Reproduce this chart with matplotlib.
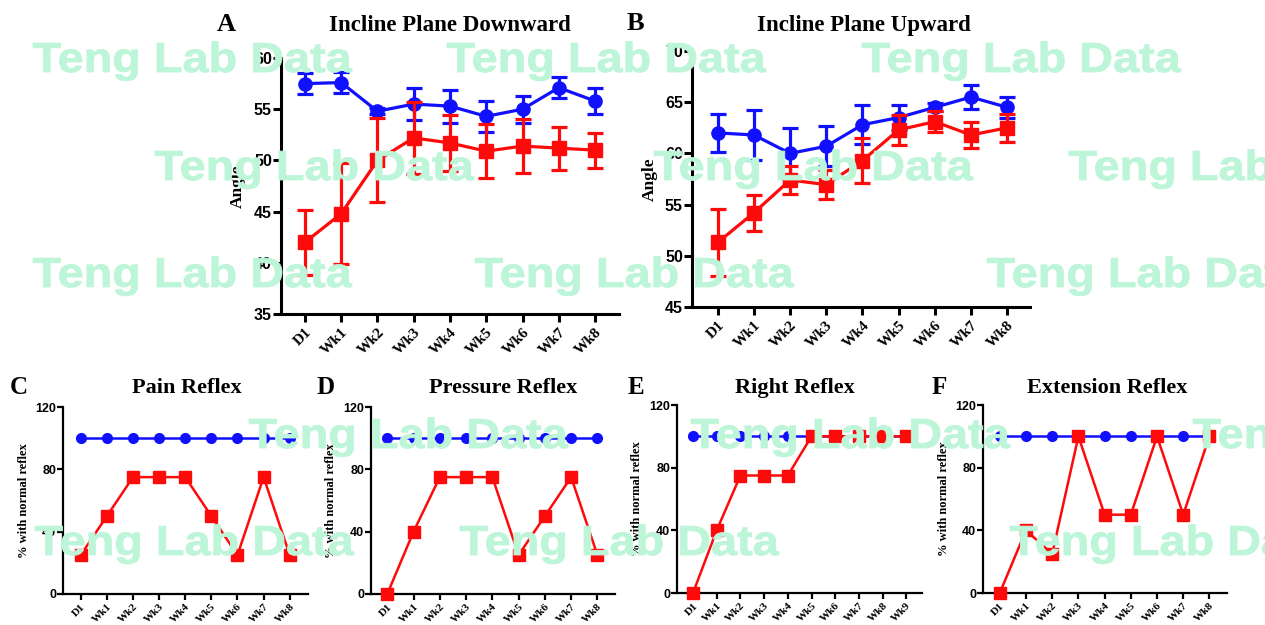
import matplotlib
matplotlib.use("Agg")
import matplotlib.pyplot as plt
from matplotlib.textpath import TextPath
from matplotlib.patches import PathPatch
from matplotlib.font_manager import FontProperties
from matplotlib.transforms import Affine2D

# ---------------- data ----------------
cats_top = ["D1", "Wk1", "Wk2", "Wk3", "Wk4", "Wk5", "Wk6", "Wk7", "Wk8"]

down_blue = [57.5, 57.6, 54.8, 55.5, 55.3, 54.3, 55.0, 57.1, 55.8]
down_blue_err = [1.05, 1.05, 0.3, 1.55, 1.6, 1.5, 1.3, 1.05, 1.25]
down_red = [42.0, 44.8, 50.0, 52.2, 51.7, 50.9, 51.4, 51.2, 51.0]
down_red_err = [3.2, 4.95, 4.1, 3.5, 2.7, 2.65, 2.6, 2.1, 1.7]

up_blue = [62.0, 61.8, 60.0, 60.7, 62.8, 63.5, 64.5, 65.5, 64.5]
up_blue_err = [1.85, 2.4, 2.5, 1.95, 1.9, 1.2, 0.4, 1.2, 1.05]
up_red = [51.3, 54.2, 57.4, 56.95, 59.3, 62.3, 63.1, 61.8, 62.5]
up_red_err = [3.3, 1.75, 1.4, 1.45, 2.2, 1.45, 1.05, 1.25, 1.35]

cats_c = ["D1", "Wk1", "Wk2", "Wk3", "Wk4", "Wk5", "Wk6", "Wk7", "Wk8"]
pain_blue = [100, 100, 100, 100, 100, 100, 100, 100, 100]
pain_red = [25, 50, 75, 75, 75, 50, 25, 75, 25]

cats_d = ["D1", "Wk1", "Wk2", "Wk3", "Wk4", "Wk5", "Wk6", "Wk7", "Wk8"]
press_blue = [100, 100, 100, 100, 100, 100, 100, 100, 100]
press_red = [0, 40, 75, 75, 75, 25, 50, 75, 25]

cats_e = ["D1", "Wk1", "Wk2", "Wk3", "Wk4", "Wk5", "Wk6", "Wk7", "Wk8", "Wk9"]
right_blue = [100, 100, 100, 100, 100, 100, 100, 100, 100, 100]
right_red = [0, 40, 75, 75, 75, 100, 100, 100, 100, 100]

cats_f = ["D1", "Wk1", "Wk2", "Wk3", "Wk4", "Wk5", "Wk6", "Wk7", "Wk8"]
ext_blue = [100, 100, 100, 100, 100, 100, 100, 100, 100]
ext_red = [0, 40, 25, 100, 50, 50, 100, 50, 100]

# ---------------- style ----------------
W, H = 1265, 625
DPI = 100
BLUE = "#1010ff"
RED = "#ff0a0a"
SERIF = "Liberation Serif"
SANS = "Liberation Sans"
WM_COLOR = "#bdf5d8"

fig = plt.figure(figsize=(W / DPI, H / DPI), dpi=DPI)


def add_ax(left, right, top, bottom):
    return fig.add_axes([left / W, 1 - bottom / H, (right - left) / W, (bottom - top) / H])


def style_ax(ax, cats, ylim, yticks, xlim, lw, ytick_fs, xtick_fs, ticklen, xpad):
    for s in ("top", "right"):
        ax.spines[s].set_visible(False)
    for s in ("left", "bottom"):
        ax.spines[s].set_linewidth(lw)
    ax.set_xlim(*xlim)
    ax.set_ylim(*ylim)
    ax.set_yticks(yticks)
    ax.set_xticks(range(len(cats)))
    ax.set_xticklabels(cats, rotation=45, ha="right", va="top", rotation_mode="anchor",
                       fontfamily=SERIF, fontweight="bold", fontsize=xtick_fs)
    ax.set_yticklabels([str(t) for t in yticks], fontfamily=SANS, fontweight="bold",
                       fontsize=ytick_fs)
    ax.tick_params(axis="both", direction="out", width=lw, length=ticklen, pad=1)
    ax.tick_params(axis="x", pad=xpad)
    ax.patch.set_alpha(0)


# ---------------- top panels ----------------
x9 = list(range(len(cats_top)))

axA = add_ax(281, 619, 58, 314)
axA.errorbar(x9, down_blue, yerr=down_blue_err, color=BLUE, marker="o", ms=9.5, lw=2.3,
             elinewidth=2.3, capsize=5.5, capthick=2.3, zorder=3)
axA.errorbar(x9, down_red, yerr=down_red_err, color=RED, marker="s", ms=10, lw=2.3,
             elinewidth=2.3, capsize=5.5, capthick=2.3, zorder=4)
style_ax(axA, cats_top, (35, 60), [35, 40, 45, 50, 55, 60], (-0.66, 8.66), 2.2, 11.5, 11, 5.5, 3)

axB = add_ax(692, 1030, 51, 307)
axB.errorbar(x9, up_blue, yerr=up_blue_err, color=BLUE, marker="o", ms=9.5, lw=2.3,
             elinewidth=2.3, capsize=5.5, capthick=2.3, zorder=3)
axB.errorbar(x9, up_red, yerr=up_red_err, color=RED, marker="s", ms=10, lw=2.3,
             elinewidth=2.3, capsize=5.5, capthick=2.3, zorder=4)
style_ax(axB, cats_top, (45, 70), [45, 50, 55, 60, 65, 70], (-0.71, 8.63), 2.2, 11.5, 11, 5.5, 3)

fig.text(450 / W, 1 - 31 / H, "Incline Plane Downward", ha="center", va="baseline",
         fontfamily=SERIF, fontweight="bold", fontsize=16.5)
fig.text(864 / W, 1 - 31 / H, "Incline Plane Upward", ha="center", va="baseline",
         fontfamily=SERIF, fontweight="bold", fontsize=16.5)
fig.text(226 / W, 1 - 31 / H, "A", ha="center", va="baseline",
         fontfamily=SERIF, fontweight="bold", fontsize=19)
fig.text(635 / W, 1 - 30 / H, "B", ha="center", va="baseline",
         fontfamily=SERIF, fontweight="bold", fontsize=19)
fig.text(238 / W, 1 - 186 / H, "Angle", ha="center", va="center", rotation=90,
         fontfamily=SERIF, fontweight="bold", fontsize=12.5)
fig.text(650 / W, 1 - 179 / H, "Angle", ha="center", va="center", rotation=90,
         fontfamily=SERIF, fontweight="bold", fontsize=12.5)

# ---------------- bottom panels ----------------
bottom_specs = [
    (63, 308, 407, 594, cats_c, pain_blue, pain_red, (-0.68, 8.7), "C", 19, "Pain Reflex", 187, 24),
    (371, 615, 407, 594, cats_d, press_blue, press_red, (-0.62, 8.67), "D", 326, "Pressure Reflex", 503, 331),
    (677, 922, 405, 593, cats_e, right_blue, right_red, (-0.675, 9.66), "E", 636, "Right Reflex", 795, 637),
    (983, 1227, 405, 593, cats_f, ext_blue, ext_red, (-0.64, 8.67), "F", 939, "Extension Reflex", 1107, 944),
]
for (l, r, t, b, cats, yb, yr, xl, letter, lx, title, tx, ylx) in bottom_specs:
    ax = add_ax(l, r, t, b)
    xs = list(range(len(cats)))
    ax.plot(xs, yb, color=BLUE, marker="o", ms=7, lw=1.8, zorder=3, clip_on=False)
    ax.plot(xs, yr, color=RED, marker="s", ms=8, lw=1.8, zorder=4, clip_on=False)
    style_ax(ax, cats, (0, 120), [0, 40, 80, 120], xl, 1.6, 9, 8, 4, 2)
    fig.text(lx / W, 1 - 394 / H, letter, ha="center", va="baseline",
             fontfamily=SERIF, fontweight="bold", fontsize=18)
    fig.text(tx / W, 1 - 393 / H, title, ha="center", va="baseline",
             fontfamily=SERIF, fontweight="bold", fontsize=16)
    fig.text(ylx / W, 1 - ((t + b) / 2) / H, "% with normal reflex", ha="center", va="center",
             rotation=90, fontfamily=SERIF, fontweight="bold", fontsize=9)

# ---------------- watermark ----------------
wm_rows = [
    (72, [33, 447, 862]),
    (180, [155, 654, 1069]),
    (287, [33, 475, 987]),
    (448, [249, 691, 1193]),
    (555, [35, 460, 1010]),
]
fp = FontProperties(family=SANS, weight="bold")
wm_path = TextPath((0, 0), "Teng Lab Data", size=1, prop=fp)
ext = wm_path.get_extents()
sx = 319 / ext.width
sy = 42.0
for base, xs0 in wm_rows:
    for x0 in xs0:
        tr = (Affine2D().scale(sx, sy).translate(x0 - ext.x0 * sx, H - base)
              .scale(1 / W, 1 / H) + fig.transFigure)
        p = PathPatch(wm_path, facecolor=WM_COLOR, edgecolor=WM_COLOR, linewidth=0.6,
                      transform=tr, zorder=20)
        fig.add_artist(p)

fig.savefig("out.png", dpi=DPI)
